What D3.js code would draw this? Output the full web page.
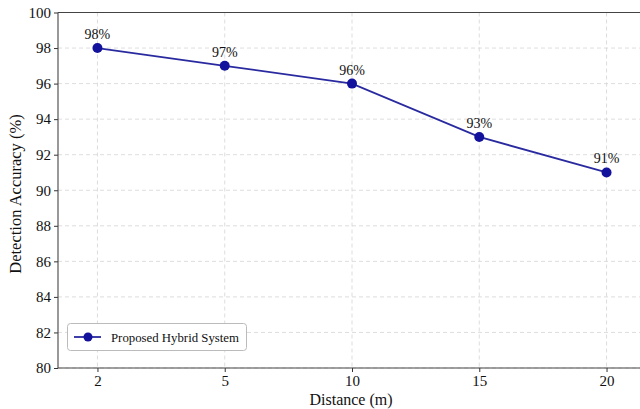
<!DOCTYPE html>
<html><head><meta charset="utf-8">
<script src="https://cdn.jsdelivr.net/npm/d3@7"></script>
<style>html,body{margin:0;padding:0;background:#fff;overflow:hidden}</style>
</head><body>
<svg id="c" width="640" height="409"></svg>
<script>
const categories = ["2", "5", "10", "15", "20"];
const accuracy = [98, 97, 96, 93, 91];
const pointLabels = ["98%", "97%", "96%", "93%", "91%"];
const yTicks = [80, 82, 84, 86, 88, 90, 92, 94, 96, 98, 100];
const seriesName = "Proposed Hybrid System";

(function () {
const svg = d3.select("#c");
const font = "'Liberation Serif', 'Times New Roman', serif";
const pLeft = 58, pRight = 646, pTop = 12.5, pBottom = 368;

const x = d3.scaleLinear().domain([-0.31, categories.length - 1 + 0.31]).range([pLeft, pRight]);
const y = d3.scaleLinear().domain([80, 100]).range([pBottom, pTop]);
const idx = d3.range(categories.length);

// grid
const grid = svg.append("g");
grid.selectAll(".gy").data(yTicks).join("line")
  .attr("x1", pLeft).attr("x2", pRight)
  .attr("y1", d => y(d)).attr("y2", d => y(d))
  .attr("stroke", "#d4d4d4").attr("stroke-width", 0.8).attr("stroke-dasharray", "4,3");
grid.selectAll(".gx").data(idx).join("line")
  .attr("x1", d => x(d)).attr("x2", d => x(d))
  .attr("y1", pTop).attr("y2", pBottom)
  .attr("stroke", "#d4d4d4").attr("stroke-width", 0.8).attr("stroke-dasharray", "4,3");

// axes
const xAxis = d3.axisBottom(x).tickValues(idx).tickFormat(i => categories[i]).tickSize(4).tickPadding(3.5);
const yAxis = d3.axisLeft(y).tickValues(yTicks).tickSize(4).tickPadding(3);
const gx = svg.append("g").attr("transform", `translate(0,${pBottom})`).call(xAxis);
const gy = svg.append("g").attr("transform", `translate(${pLeft},0)`).call(yAxis);
[gx, gy].forEach(g => {
  g.select(".domain").remove();
  g.selectAll("line").attr("stroke", "#333").attr("stroke-width", 1);
  g.selectAll("text").attr("font-family", font).attr("font-size", 15).attr("fill", "#111");
});

// spines
svg.append("line").attr("x1", pLeft).attr("x2", pRight).attr("y1", pTop).attr("y2", pTop).attr("stroke", "#444").attr("stroke-width", 1.1);
svg.append("line").attr("x1", pLeft).attr("x2", pRight).attr("y1", pBottom).attr("y2", pBottom).attr("stroke", "#444").attr("stroke-width", 1.1);
svg.append("line").attr("x1", pLeft).attr("x2", pLeft).attr("y1", pTop).attr("y2", pBottom).attr("stroke", "#444").attr("stroke-width", 1.1);

// labels
svg.append("text").attr("x", 351).attr("y", 405).attr("text-anchor", "middle")
  .attr("font-family", font).attr("font-size", 16).attr("fill", "#111").text("Distance (m)");
svg.append("text").attr("transform", `translate(21,194) rotate(-90)`).attr("text-anchor", "middle")
  .attr("font-family", font).attr("font-size", 16.5).attr("fill", "#111").text("Detection Accuracy (%)");

// line + points
const lineColor = "#2a2aa0", markColor = "#12129c";
svg.append("path").datum(idx)
  .attr("d", d3.line().x(i => x(i)).y(i => y(accuracy[i])))
  .attr("fill", "none").attr("stroke", lineColor).attr("stroke-width", 1.8);
svg.selectAll(".pt").data(idx).join("circle")
  .attr("cx", i => x(i)).attr("cy", i => y(accuracy[i])).attr("r", 5).attr("fill", markColor);
svg.selectAll(".lbl").data(idx).join("text")
  .attr("x", i => x(i)).attr("y", i => y(accuracy[i]) - 9).attr("text-anchor", "middle")
  .attr("font-family", font).attr("font-size", 14).attr("fill", "#111").text(i => pointLabels[i]);

// legend
const lg = svg.append("g");
lg.append("rect").attr("x", 67.5).attr("y", 323.5).attr("width", 179).attr("height", 27).attr("rx", 3)
  .attr("fill", "#fff").attr("stroke", "#bbb").attr("stroke-width", 1);
lg.append("line").attr("x1", 74).attr("x2", 101).attr("y1", 337).attr("y2", 337).attr("stroke", lineColor).attr("stroke-width", 1.8);
lg.append("circle").attr("cx", 88).attr("cy", 337).attr("r", 4.5).attr("fill", markColor);
lg.append("text").attr("x", 111).attr("y", 341.5).attr("font-family", font).attr("font-size", 12.8).attr("fill", "#111").text(seriesName);
})();
</script>
</body></html>
